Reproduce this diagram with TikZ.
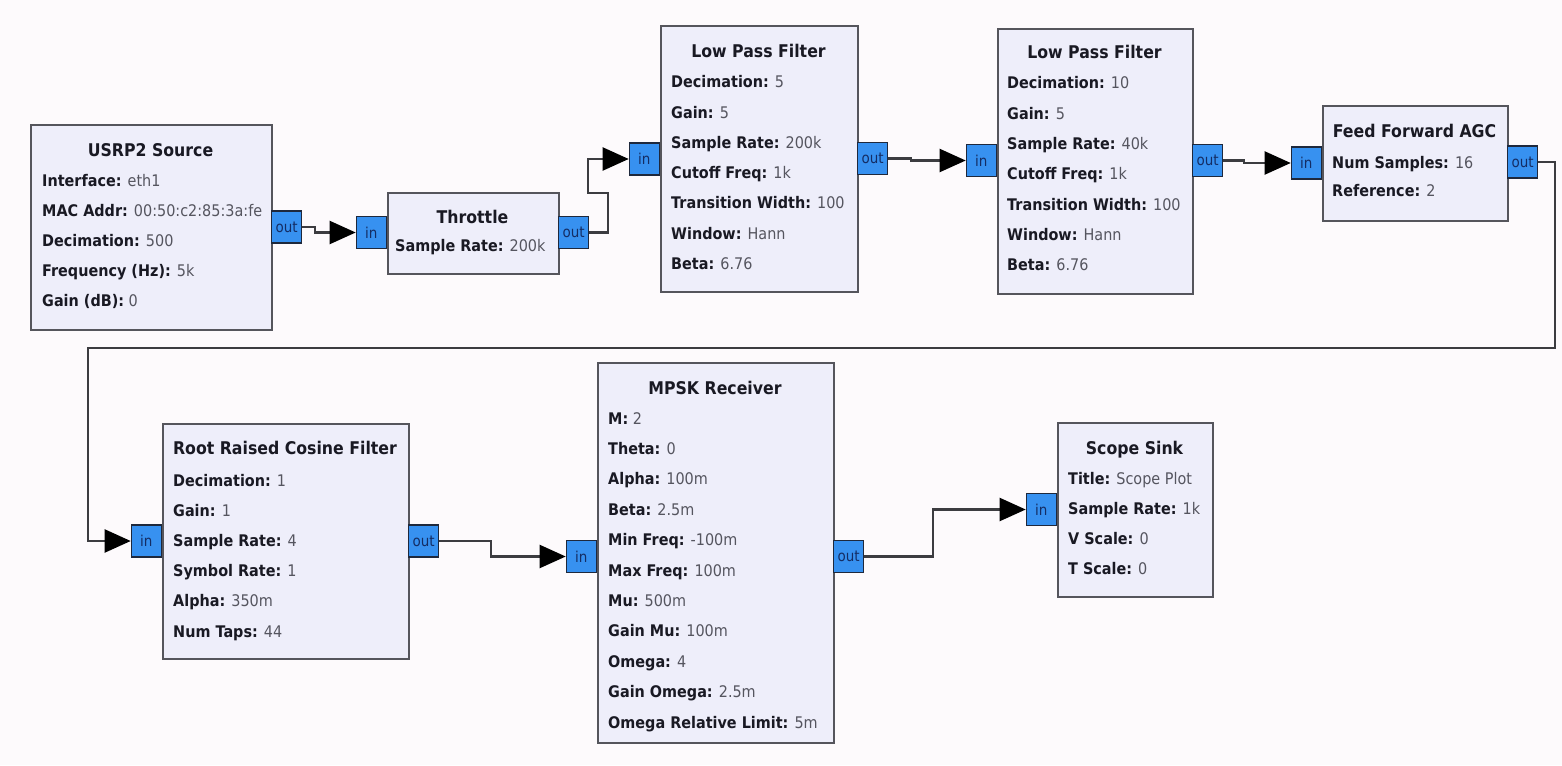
\documentclass[tikz,border=0pt]{standalone}
\usepackage{fontspec}
\setmainfont{DejaVu Sans}[FakeStretch=0.9]
\usetikzlibrary{arrows.meta}

\definecolor{bgcol}{RGB}{253,250,252}
\definecolor{boxfill}{RGB}{238,238,250}
\definecolor{boxline}{RGB}{85,85,92}
\definecolor{portblue}{RGB}{55,145,240}
\definecolor{portline}{RGB}{30,40,60}
\definecolor{porttext}{RGB}{20,45,100}
\definecolor{wire}{RGB}{60,60,64}
\definecolor{keycol}{RGB}{25,25,35}
\definecolor{valcol}{RGB}{85,85,95}

% key in bold, value in a lighter regular face
\newcommand\kv[2]{\textbf{#1:} {\color{valcol}#2}}

\tikzset{
  block/.style={draw=boxline, line width=1.6pt, fill=boxfill, rectangle,
    inner sep=0pt, anchor=north west},
  port/.style={draw=portline, line width=1.3pt, fill=portblue, rectangle,
    minimum width=30pt, minimum height=32pt, inner sep=0pt,
    text=porttext, font=\fontsize{15}{16}\selectfont},
  inport/.style={port, anchor=east},
  outport/.style={port, anchor=west},
  blocktitle/.style={inner sep=0pt, anchor=base, text=keycol,
    font=\fontsize{17.5}{20}\selectfont\bfseries},
  param/.style={inner sep=0pt, anchor=base west, text=keycol,
    font=\fontsize{16}{18}\selectfont},
  conn/.style={draw=wire, line width=2.1pt,
    -{Triangle[length=26pt,width=23pt,color=black]}},
}

\begin{document}
\begin{tikzpicture}[x=1pt, y=-1pt]
\fill[bgcol] (0,0) rectangle (1562,765);
\useasboundingbox (0,0) rectangle (1562,765);

% ---------- USRP2 Source ----------
\node[block, minimum width=241pt, minimum height=205pt] (usrp) at (30,124) {};
\node[blocktitle] (usrp-t) at (150.5,156) {USRP2 Source};
\foreach \k/\v [count=\i from 0] in {Interface/eth1, MAC Addr/00:50:c2:85:3a:fe,
    Decimation/500, {Frequency (Hz)}/5k, {Gain (dB)}/0}
  \node[param] (usrp-p\i) at (42,{186+30*\i}) {\kv{\k}{\v}};
\node[outport] (usrp-out) at (271,227) {out};

% ---------- Throttle ----------
\node[block, minimum width=171pt, minimum height=81pt] (thr) at (387,192) {};
\node[blocktitle] (thr-t) at (472.5,223) {Throttle};
\node[param] (thr-p0) at (395,251) {\kv{Sample Rate}{200k}};
\node[inport] (thr-in) at (387,232.5) {in};
\node[outport] (thr-out) at (558,232.5) {out};

% ---------- Low Pass Filter (first stage) ----------
\node[block, minimum width=197pt, minimum height=266pt] (lpf1) at (660,25) {};
\node[blocktitle] (lpf1-t) at (758.5,58) {Low Pass Filter};
\foreach \k/\v [count=\i from 0] in {Decimation/5, Gain/5, Sample Rate/200k,
    Cutoff Freq/1k, Transition Width/100, Window/Hann, Beta/6.76}
  \node[param] (lpf1-p\i) at (671,{88+30.2*\i}) {\kv{\k}{\v}};
\node[inport] (lpf1-in) at (660,159) {in};
\node[outport] (lpf1-out) at (857,158.5) {out};

% ---------- Low Pass Filter (second stage) ----------
\node[block, minimum width=195pt, minimum height=265pt] (lpf2) at (997,28) {};
\node[blocktitle] (lpf2-t) at (1094.5,59) {Low Pass Filter};
\foreach \k/\v [count=\i from 0] in {Decimation/10, Gain/5, Sample Rate/40k,
    Cutoff Freq/1k, Transition Width/100, Window/Hann, Beta/6.76}
  \node[param] (lpf2-p\i) at (1007,{89+30.3*\i}) {\kv{\k}{\v}};
\node[inport] (lpf2-in) at (997,160.5) {in};
\node[outport] (lpf2-out) at (1192,160.5) {out};

% ---------- Feed Forward AGC ----------
\node[block, minimum width=185pt, minimum height=115pt] (agc) at (1322,105) {};
\node[blocktitle] (agc-t) at (1414.5,138) {Feed Forward AGC};
\node[param] (agc-p0) at (1332,168) {\kv{Num Samples}{16}};
\node[param] (agc-p1) at (1332,196) {\kv{Reference}{2}};
\node[inport] (agc-in) at (1322,163) {in};
\node[outport] (agc-out) at (1507,162) {out};

% ---------- Root Raised Cosine Filter ----------
\node[block, minimum width=246pt, minimum height=235pt] (rrc) at (162,423) {};
\node[blocktitle] (rrc-t) at (285,454) {Root Raised Cosine Filter};
\foreach \k/\v [count=\i from 0] in {Decimation/1, Gain/1, Sample Rate/4,
    Symbol Rate/1, Alpha/350m, Num Taps/44}
  \node[param] (rrc-p\i) at (173,{486+30.2*\i}) {\kv{\k}{\v}};
\node[inport] (rrc-in) at (162,541) {in};
\node[outport] (rrc-out) at (408,541) {out};

% ---------- MPSK Receiver ----------
\node[block, minimum width=236pt, minimum height=380pt] (mpsk) at (597,362) {};
\node[blocktitle] (mpsk-t) at (715,394) {MPSK Receiver};
\foreach \k/\v [count=\i from 0] in {M/2, Theta/0, Alpha/100m, Beta/2.5m,
    Min Freq/-100m, Max Freq/100m, Mu/500m, Gain Mu/100m, Omega/4,
    Gain Omega/2.5m, Omega Relative Limit/5m}
  \node[param] (mpsk-p\i) at (608,{424+30.4*\i}) {\kv{\k}{\v}};
\node[inport] (mpsk-in) at (597,556.5) {in};
\node[outport] (mpsk-out) at (833,556.5) {out};

% ---------- Scope Sink ----------
\node[block, minimum width=155pt, minimum height=174pt] (scope) at (1057,422) {};
\node[blocktitle] (scope-t) at (1134.5,454) {Scope Sink};
\foreach \k/\v [count=\i from 0] in {Title/Scope Plot, Sample Rate/1k,
    V Scale/0, T Scale/0}
  \node[param] (scope-p\i) at (1068,{484+30*\i}) {\kv{\k}{\v}};
\node[inport] (scope-in) at (1057,509.5) {in};

% ---------- connections ----------
\coordinate (wrap-r) at (1555,348);
\coordinate (wrap-l) at (88,348);

\draw[conn] (usrp-out.east) -- ++(13,0) |- (thr-in.west);
\draw[conn] (thr-out.east) -- ++(19,0) -- ++(0,-39.5) -- ++(-20,0) |- (lpf1-in.west);
\draw[conn] (lpf1-out.east) -- ++(23,0) |- (lpf2-in.west);
\draw[conn] (lpf2-out.east) -- ++(21,0) |- (agc-in.west);
\draw[conn] (agc-out.east) -| (wrap-r) -- (wrap-l) |- (rrc-in.west);
\draw[conn] (rrc-out.east) -- ++(52,0) |- (mpsk-in.west);
\draw[conn] (mpsk-out.east) -- ++(69,0) |- (scope-in.west);
\end{tikzpicture}
\end{document}
